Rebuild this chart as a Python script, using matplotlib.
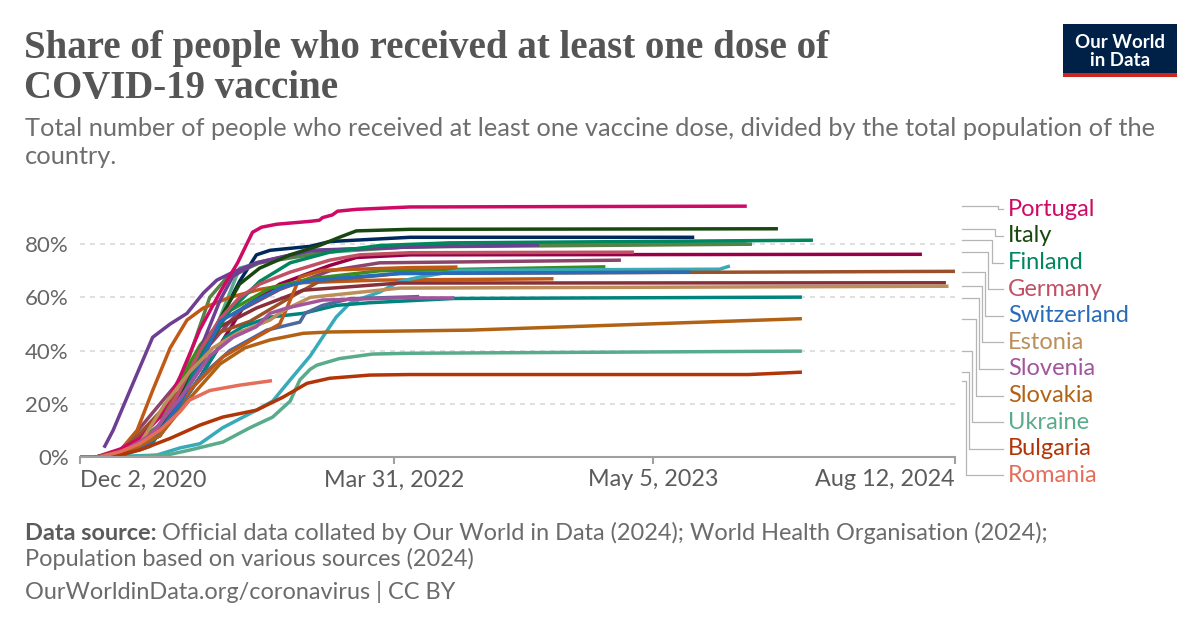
import matplotlib
matplotlib.use('Agg')
import matplotlib.pyplot as plt
from matplotlib.transforms import blended_transform_factory
from matplotlib.patches import Rectangle
import pandas as pd

# (date, share %) keypoints
portugal = [("2020-12-27", 0), ("2021-02-02", 3), ("2021-03-04", 7), ("2021-04-04", 15), ("2021-05-05", 30),
            ("2021-06-05", 48), ("2021-07-06", 62), ("2021-08-02", 73), ("2021-08-25", 84.5), ("2021-09-08", 86.4),
            ("2021-10-01", 87.5), ("2021-11-22", 88.6), ("2021-12-06", 89), ("2021-12-11", 90), ("2021-12-26", 91),
            ("2022-01-03", 92.4), ("2022-02-01", 93.1), ("2022-04-25", 94), ("2023-09-26", 94.3)]
italy = [("2020-12-27", 0), ("2021-02-02", 2), ("2021-03-20", 6), ("2021-05-05", 22), ("2021-06-20", 45),
         ("2021-08-05", 65), ("2021-09-05", 71), ("2021-10-22", 76), ("2021-12-06", 79.5), ("2022-01-06", 82.6),
         ("2022-02-01", 85), ("2022-04-25", 85.6), ("2023-11-13", 85.8)]
navy = [("2020-12-27", 0), ("2021-02-02", 1), ("2021-04-04", 10), ("2021-05-25", 31), ("2021-07-06", 52),
        ("2021-08-05", 66), ("2021-08-31", 76), ("2021-09-21", 77.7), ("2021-11-22", 79.2), ("2021-12-22", 81),
        ("2022-04-25", 82.6), ("2023-07-07", 82.6)]
finland = [("2020-12-27", 0), ("2021-02-02", 0.5), ("2021-03-20", 4), ("2021-05-05", 20), ("2021-06-05", 38),
           ("2021-07-21", 55), ("2021-09-05", 66), ("2021-10-22", 73), ("2021-12-22", 77), ("2022-03-09", 79.5),
           ("2022-06-25", 80.5), ("2024-01-06", 81.5)]
light_green = [("2020-12-27", 0), ("2021-02-02", 1), ("2021-04-20", 15), ("2021-06-05", 33), ("2021-07-10", 55),
               ("2021-08-05", 71), ("2021-09-21", 74), ("2021-11-22", 76.6), ("2022-04-25", 79), ("2022-11-10", 80),
               ("2023-09-26", 80.4)]
olive = [("2020-12-27", 0), ("2021-02-02", 1), ("2021-04-04", 12), ("2021-05-20", 38), ("2021-06-20", 60),
         ("2021-07-17", 67.6), ("2021-09-05", 73), ("2021-11-22", 76), ("2021-12-22", 77.5), ("2022-04-25", 79),
         ("2023-10-04", 80)]
purple_early = [("2021-01-08", 3.5), ("2021-01-22", 10), ("2021-02-17", 25), ("2021-03-24", 45), ("2021-04-20", 50),
                ("2021-05-16", 54), ("2021-06-10", 61.6), ("2021-07-01", 66.5), ("2021-07-26", 69.5),
                ("2021-08-31", 73), ("2021-11-22", 77.5), ("2022-04-25", 79), ("2022-07-11", 79.5)]
purple_late = [("2020-12-02", 0), ("2021-01-17", 0), ("2021-03-15", 6), ("2021-04-20", 16), ("2021-05-20", 31),
               ("2021-06-13", 45), ("2021-07-06", 59), ("2021-07-26", 68), ("2021-08-31", 73), ("2021-11-22", 77.7),
               ("2022-04-25", 79), ("2022-11-10", 79.7)]
germany = [("2020-12-27", 0), ("2021-02-02", 2), ("2021-03-20", 6), ("2021-05-05", 25), ("2021-06-05", 40),
           ("2021-07-06", 52), ("2021-08-05", 60), ("2021-09-05", 65), ("2021-10-22", 69.5), ("2021-12-22", 74),
           ("2022-02-06", 76), ("2022-04-25", 76.8), ("2023-04-05", 77)]
crimson = [("2020-12-27", 0), ("2021-02-02", 1), ("2021-04-04", 8), ("2021-06-05", 30), ("2021-08-10", 56),
           ("2021-10-06", 65), ("2021-12-22", 72), ("2022-02-01", 75), ("2022-04-25", 76), ("2024-06-22", 76.2)]
mauve = [("2020-12-27", 0), ("2021-02-02", 2), ("2021-06-05", 38), ("2021-08-05", 55), ("2021-10-06", 63),
         ("2021-12-22", 70), ("2022-03-09", 73), ("2023-03-16", 74)]
orange_late = [("2020-12-27", 0), ("2021-01-17", 0.5), ("2021-03-04", 5), ("2021-04-20", 15), ("2021-05-20", 25),
               ("2021-07-10", 37.6), ("2021-08-31", 45), ("2021-10-06", 50), ("2021-10-17", 56), ("2021-10-22", 59),
               ("2021-11-06", 67.6), ("2021-12-11", 70.2), ("2022-04-25", 71.2), ("2022-07-07", 71.4)]
orange_early = [("2020-12-27", 0), ("2021-01-28", 1), ("2021-02-28", 10), ("2021-03-24", 25), ("2021-04-20", 41),
                ("2021-05-16", 51.5), ("2021-06-10", 56), ("2021-07-21", 60), ("2021-09-05", 63),
                ("2021-11-06", 65.5), ("2022-03-09", 66.5), ("2022-12-02", 67)]
green = [("2020-12-27", 0), ("2021-02-02", 2), ("2021-04-04", 15), ("2021-06-05", 42), ("2021-07-21", 55),
         ("2021-09-21", 63.5), ("2021-11-22", 67), ("2022-03-09", 70), ("2023-02-20", 71.5)]
cyan = [("2021-01-02", 0), ("2021-03-30", 0.7), ("2021-05-05", 3.4), ("2021-06-05", 5), ("2021-07-10", 11),
        ("2021-08-31", 17.6), ("2021-09-25", 21), ("2021-10-22", 29), ("2021-11-22", 38), ("2021-12-11", 45),
        ("2022-01-01", 52.6), ("2022-01-22", 57.8), ("2022-02-14", 60), ("2022-03-09", 62), ("2022-04-09", 66),
        ("2022-05-09", 67.6), ("2022-07-11", 70.2), ("2023-08-15", 70.6), ("2023-08-31", 71.8)]
switzerland = [("2020-12-27", 0), ("2021-01-17", 0.5), ("2021-03-20", 5), ("2021-05-05", 20), ("2021-06-05", 35),
               ("2021-07-06", 51), ("2021-08-31", 59), ("2021-10-11", 64), ("2021-11-26", 66.5),
               ("2022-04-09", 69), ("2023-07-01", 69.5)]
brown = [("2020-12-27", 0), ("2021-02-02", 1), ("2021-06-05", 33), ("2021-06-25", 46), ("2021-08-21", 51),
         ("2021-10-22", 60), ("2021-12-06", 66), ("2022-04-09", 69), ("2024-08-12", 69.8)]
maroon = [("2020-12-27", 0), ("2021-02-02", 1), ("2021-04-04", 10), ("2021-05-20", 30), ("2021-07-06", 49),
          ("2021-08-31", 56), ("2021-11-11", 62.7), ("2022-04-09", 65.4), ("2024-07-29", 65.5)]
estonia = [("2020-12-27", 0), ("2021-01-17", 0), ("2021-03-04", 5), ("2021-04-12", 20), ("2021-05-20", 32),
           ("2021-06-25", 41), ("2021-08-01", 46.5), ("2021-09-21", 51.5), ("2021-10-11", 55), ("2021-11-22", 60),
           ("2022-04-09", 63.5), ("2024-08-02", 64.2)]
slovenia = [("2020-12-27", 0), ("2021-01-25", 0.5), ("2021-03-20", 8), ("2021-05-05", 22), ("2021-06-20", 38),
            ("2021-07-26", 45), ("2021-08-31", 49), ("2021-09-21", 54), ("2021-10-17", 56), ("2021-12-11", 59),
            ("2022-04-09", 59.8), ("2022-07-02", 59.8)]
teal = [("2020-12-27", 0), ("2021-02-02", 0.5), ("2021-04-04", 8), ("2021-06-05", 30), ("2021-07-14", 45),
        ("2021-08-10", 49), ("2021-09-21", 52.6), ("2021-11-11", 54), ("2022-01-01", 57), ("2022-02-22", 58),
        ("2022-07-02", 59.6), ("2023-12-20", 60.1)]
slate = [("2020-12-27", 0), ("2021-02-02", 0.5), ("2021-04-04", 8), ("2021-06-05", 30), ("2021-07-21", 40),
         ("2021-09-16", 47.7), ("2021-11-06", 50.7), ("2021-11-14", 54), ("2021-12-11", 57), ("2022-01-22", 59.5),
         ("2022-05-09", 60.3)]
slovakia = [("2020-12-27", 0), ("2021-02-02", 0.5), ("2021-04-04", 8), ("2021-05-20", 22), ("2021-07-06", 35),
            ("2021-08-13", 41), ("2021-09-21", 44), ("2021-11-11", 46.5), ("2021-12-22", 47), ("2022-07-26", 47.7),
            ("2023-12-20", 52)]
ukraine = [("2021-02-20", 0), ("2021-04-20", 1), ("2021-05-20", 2.6), ("2021-07-10", 5.6), ("2021-08-21", 11),
           ("2021-09-25", 15), ("2021-10-22", 21), ("2021-11-06", 29), ("2021-11-22", 33), ("2021-12-02", 34.5),
           ("2022-01-06", 37), ("2022-02-26", 38.7), ("2022-04-25", 39), ("2023-12-20", 39.8)]
bulgaria = [("2020-12-27", 0), ("2021-01-17", 0), ("2021-03-04", 2.6), ("2021-04-20", 7), ("2021-06-05", 12),
            ("2021-07-10", 15), ("2021-08-31", 17.6), ("2021-10-11", 22.5), ("2021-11-17", 27.7),
            ("2021-12-22", 29.6), ("2022-02-22", 30.8), ("2022-04-25", 31), ("2023-09-29", 31), ("2023-12-20", 31.9)]
romania = [("2020-12-27", 0), ("2021-01-02", 0), ("2021-02-02", 2), ("2021-03-04", 5), ("2021-04-04", 10),
           ("2021-05-05", 17), ("2021-05-20", 21.4), ("2021-06-20", 25), ("2021-08-05", 27), ("2021-09-24", 28.7)]

# unlabeled lines first, labeled on top
others = [(navy, "#00295B"), (light_green, "#58AC8C"), (olive, "#578145"), (crimson, "#970046"),
          (mauve, "#8C4569"), (orange_early, "#C05917"), (green, "#3B8E1D"), (cyan, "#38AABA"),
          (brown, "#9A5129"), (maroon, "#883039"), (teal, "#00847E"), (slate, "#4C6A9C"),
          (purple_early, "#6D3E91"), (purple_late, "#6D3E91"), (orange_late, "#C05917")]
labeled = [("Portugal", portugal, "#CF0A66"), ("Italy", italy, "#18470F"), ("Finland", finland, "#00875E"),
           ("Germany", germany, "#C15065"), ("Switzerland", switzerland, "#286BBB"),
           ("Estonia", estonia, "#BC8E5A"), ("Slovenia", slovenia, "#A2559C"), ("Slovakia", slovakia, "#B16214"),
           ("Ukraine", ukraine, "#58AC8C"), ("Bulgaria", bulgaria, "#B13507"), ("Romania", romania, "#E56E5A")]

x_ticks = ["2020-12-02", "2022-03-31", "2023-05-05", "2024-08-12"]
x_tick_labels = ["Dec 2, 2020", "Mar 31, 2022", "May 5, 2023", "Aug 12, 2024"]
y_ticks = [0, 20, 40, 60, 80]

W, H = 1200, 628
fig = plt.figure(figsize=(12, 6.28), dpi=100)
plt.rcParams['font.family'] = ['Lato', 'DejaVu Sans']

def fx(px):
    return px / W

def fy(py):
    return 1 - py / H

ax = fig.add_axes([fx(80), fy(457), fx(955) - fx(80), fy(191) - fy(457)])
ax.set_xlim(pd.Timestamp("2020-12-02"), pd.Timestamp("2024-08-12"))
ax.set_ylim(0, 100)

for s in ["top", "right", "left"]:
    ax.spines[s].set_visible(False)
ax.spines["bottom"].set_color("#a0a0a0")
ax.spines["bottom"].set_linewidth(1.5)

for v in y_ticks[1:]:
    ax.axhline(v, color="#d9d9d9", lw=1.2, ls=(0, (3, 3)), zorder=0)

def draw(series, color):
    d = pd.to_datetime([p[0] for p in series])
    v = [p[1] for p in series]
    ax.plot(d, v, color=color, lw=2.5, solid_capstyle="butt", solid_joinstyle="round", zorder=2)

for series, color in others:
    draw(series, color)
for name, series, color in labeled:
    draw(series, color)

ax.set_xticks(pd.to_datetime(x_ticks))
ax.set_xticklabels(x_tick_labels, fontsize=16.8, color="#5b5b5b")
tl = ax.get_xticklabels()
tl[0].set_ha("left")
tl[-1].set_ha("right")
ax.tick_params(axis="x", length=5, width=1.5, color="#a0a0a0", pad=4)
ax.set_yticks(y_ticks)
ax.set_yticklabels([f"{v}%" for v in y_ticks], fontsize=16, color="#666666")
ax.tick_params(axis="y", length=0, pad=8)

# right-hand labels with elbow connectors
bt = blended_transform_factory(fig.transFigure, ax.transData)
for i, (name, series, color) in enumerate(labeled):
    end_v = series[-1][1]
    lab_v = 93.1 - 10 * i
    ex = 998 - 3.2 * i
    ax.plot([fx(962), fx(ex), fx(ex), fx(1003)], [end_v, end_v, lab_v, lab_v], transform=bt,
            color="#b5b5b5", lw=0.9, clip_on=False)
    ax.text(fx(1008), lab_v, name, transform=bt, color=color, fontsize=17, va="center", ha="left")

# title, subtitle
fig.text(fx(24), fy(58), "Share of people who received at least one dose of", fontsize=28,
         family="Liberation Serif", weight="bold", color="#555555", va="baseline")
fig.text(fx(24), fy(98), "COVID-19 vaccine", fontsize=28,
         family="Liberation Serif", weight="bold", color="#555555", va="baseline")
fig.text(fx(25), fy(136), "Total number of people who received at least one vaccine dose, divided by the total population of the",
         fontsize=18.3, color="#6e6e6e", va="baseline")
fig.text(fx(25), fy(164), "country.", fontsize=18.3, color="#6e6e6e", va="baseline")

# footer
fig.canvas.draw()
r = fig.canvas.get_renderer()
t0 = fig.text(fx(25), fy(540), "Data source:", fontsize=16.9, weight="bold", color="#5b5b5b", va="baseline")
bb = t0.get_window_extent(renderer=r)
fig.text(fx(bb.x1 + 5), fy(540),
         "Official data collated by Our World in Data (2024); World Health Organisation (2024);",
         fontsize=16.9, color="#6b6b6b", va="baseline")
fig.text(fx(25), fy(566), "Population based on various sources (2024)", fontsize=16.9, color="#6b6b6b", va="baseline")
fig.text(fx(25), fy(599), "OurWorldinData.org/coronavirus | CC BY", fontsize=16.9, color="#6b6b6b", va="baseline")

# logo
fig.patches.append(Rectangle((fx(1063), fy(77)), fx(114), 53 / H, transform=fig.transFigure,
                             facecolor="#002147", edgecolor="none"))
fig.patches.append(Rectangle((fx(1063), fy(77)), fx(114), 4 / H, transform=fig.transFigure,
                             facecolor="#ce261e", edgecolor="none"))
fig.text(fx(1120), fy(42), "Our World", fontsize=13.5, weight="bold", color="white", ha="center", va="center")
fig.text(fx(1120), fy(60), "in Data", fontsize=13.5, weight="bold", color="white", ha="center", va="center")

fig.savefig("out.png", dpi=100)
